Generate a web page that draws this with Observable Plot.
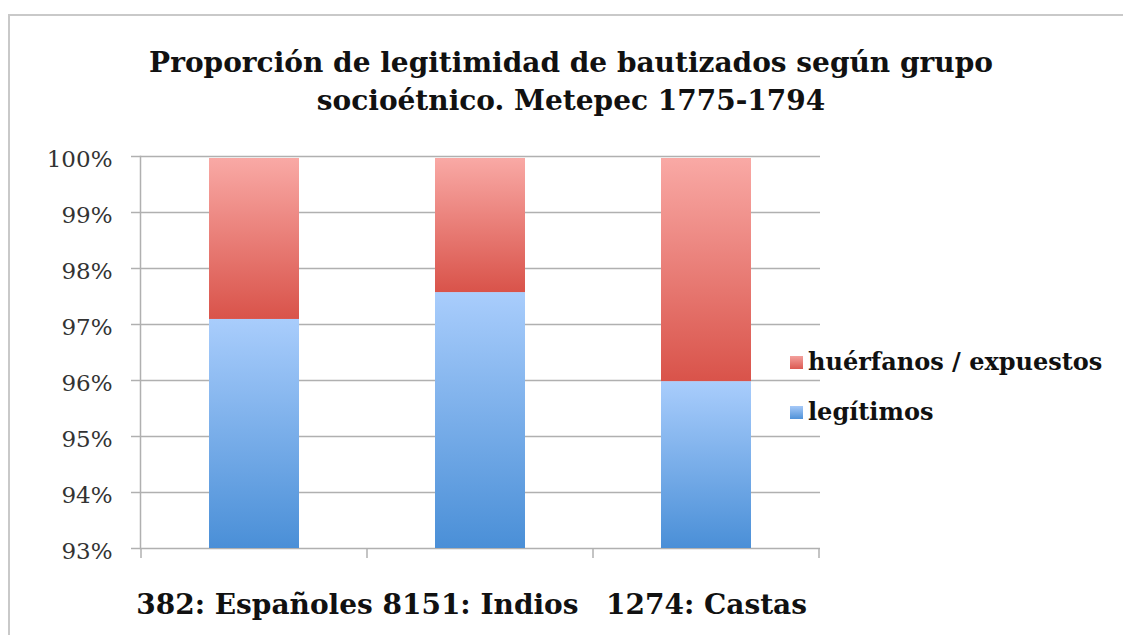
<!DOCTYPE html>
<html>
<head>
<meta charset="utf-8">
<script src="https://cdn.jsdelivr.net/npm/d3@7"></script>
<script src="https://cdn.jsdelivr.net/npm/@observablehq/plot@0.6"></script>
<style>
  html, body { margin: 0; padding: 0; background: #fff; }
  #wrap { position: relative; width: 1123px; height: 635px; overflow: hidden; background: #fff; }
  #box { position: absolute; left: 8px; top: 14px; width: 1130px; height: 700px; border-top: 2px solid #c9c9c9; border-left: 2px solid #c9c9c9; }
  #chart { position: absolute; left: 0; top: 0; }
  #title { position: absolute; left: 0; width: 1142px; top: 44px; text-align: center;
           font-family: "DejaVu Serif", serif; font-weight: bold; font-size: 28px; line-height: 38px; color: #111; }
  .leg { position: absolute; left: 790px; font-family: "DejaVu Serif", serif; font-weight: bold; font-size: 24px; color: #111; white-space: nowrap; }
  .leg span.sw { display: inline-block; width: 13px; height: 13px; margin-right: 5px; vertical-align: 1px; }
</style>
</head>
<body>
<div id="wrap">
  <div id="box"></div>
  <div id="chart"></div>
  <div id="title">Proporción de legitimidad de bautizados según grupo<br>socioétnico. Metepec 1775-1794</div>
  <div class="leg" style="top:347px"><span class="sw" style="background:linear-gradient(#f3a09c,#dc5a52)"></span>huérfanos / expuestos</div>
  <div class="leg" style="top:397px"><span class="sw" style="background:linear-gradient(#a6c9f8,#4f92d8)"></span>legítimos</div>
</div>
<script>
const groups = ["382: Españoles", "8151: Indios", "1274: Castas"];
const legitimos = [0.9709, 0.9757, 0.9598];
const huerfanos = [0.0291, 0.0243, 0.0402];
const yTicks = [0.93, 0.94, 0.95, 0.96, 0.97, 0.98, 0.99, 1.00];

const rows = groups.map((g, i) => ({group: g, legit: legitimos[i], huerf: huerfanos[i]}));

const boundaryTicks = (index, scales, values, dims) => {
  const x = scales.x, y = scales.y;
  let xs;
  if (typeof x.bandwidth === "function") {
    const bw = x.bandwidth(), st = x.step();
    xs = groups.map(g => x(g) + bw / 2 - st / 2);
    xs.push(x(groups[groups.length - 1]) + bw / 2 + st / 2);
  } else {
    const st = (dims.width - dims.marginLeft - dims.marginRight) / groups.length;
    xs = d3.range(groups.length + 1).map(i => dims.marginLeft + i * st);
  }
  const y0 = y(yTicks[0]);
  const g = d3.create("svg:g").attr("stroke", "#b0b0b0").attr("stroke-width", 1.5);
  g.selectAll("line").data(xs).join("line")
    .attr("x1", d => d).attr("x2", d => d).attr("y1", y0).attr("y2", y0 + 10);
  return g.node();
};

const plot = Plot.plot({
  width: 1123,
  height: 635,
  marginLeft: 140,
  marginRight: 303,
  marginTop: 156,
  marginBottom: 87,
  style: "background: transparent; font-family: 'DejaVu Serif', serif;",
  x: {type: "band", domain: groups, paddingInner: 0.6, paddingOuter: 0.3, align: 0.5},
  y: {domain: [yTicks[0], yTicks[yTicks.length - 1]]},
  marks: [
    Plot.gridY({ticks: yTicks, stroke: "#b0b0b0", strokeOpacity: 1, strokeWidth: 1.5}),
    Plot.barY(rows, {x: "group", y1: () => yTicks[0], y2: "legit", fill: "url(#gBlue)"}),
    Plot.barY(rows, {x: "group", y1: "legit", y2: d => d.legit + d.huerf, fill: "url(#gRed)", insetTop: 2}),
    Plot.frame({anchor: "left", stroke: "#b0b0b0", strokeWidth: 1.5}),
    boundaryTicks,
    Plot.axisY({ticks: yTicks, tickFormat: () => "", tickSize: 9, stroke: "#b0b0b0", strokeWidth: 1.5, label: null}),
    Plot.axisY({ticks: yTicks, tickFormat: d3.format(".0%"), tickSize: 0, tickPadding: 28,
                fill: "#333", fontSize: 23, dy: 3, fontFamily: "DejaVu Serif", label: null}),
    Plot.axisX({tickSize: 0, tickPadding: 46, fontSize: 28, fontWeight: "bold", fill: "#111",
                fontFamily: "DejaVu Serif", label: null})
  ]
});

const ns = "http://www.w3.org/2000/svg";
const defs = document.createElementNS(ns, "defs");
defs.innerHTML = `
  <linearGradient id="gBlue" x1="0" y1="0" x2="0" y2="1">
    <stop offset="0" stop-color="#a9cdfc"/><stop offset="1" stop-color="#4a8fd7"/>
  </linearGradient>
  <linearGradient id="gRed" x1="0" y1="0" x2="0" y2="1">
    <stop offset="0" stop-color="#f9a9a5"/><stop offset="1" stop-color="#d9534a"/>
  </linearGradient>`;
plot.insertBefore(defs, plot.firstChild);
document.getElementById("chart").appendChild(plot);
</script>
</body>
</html>
